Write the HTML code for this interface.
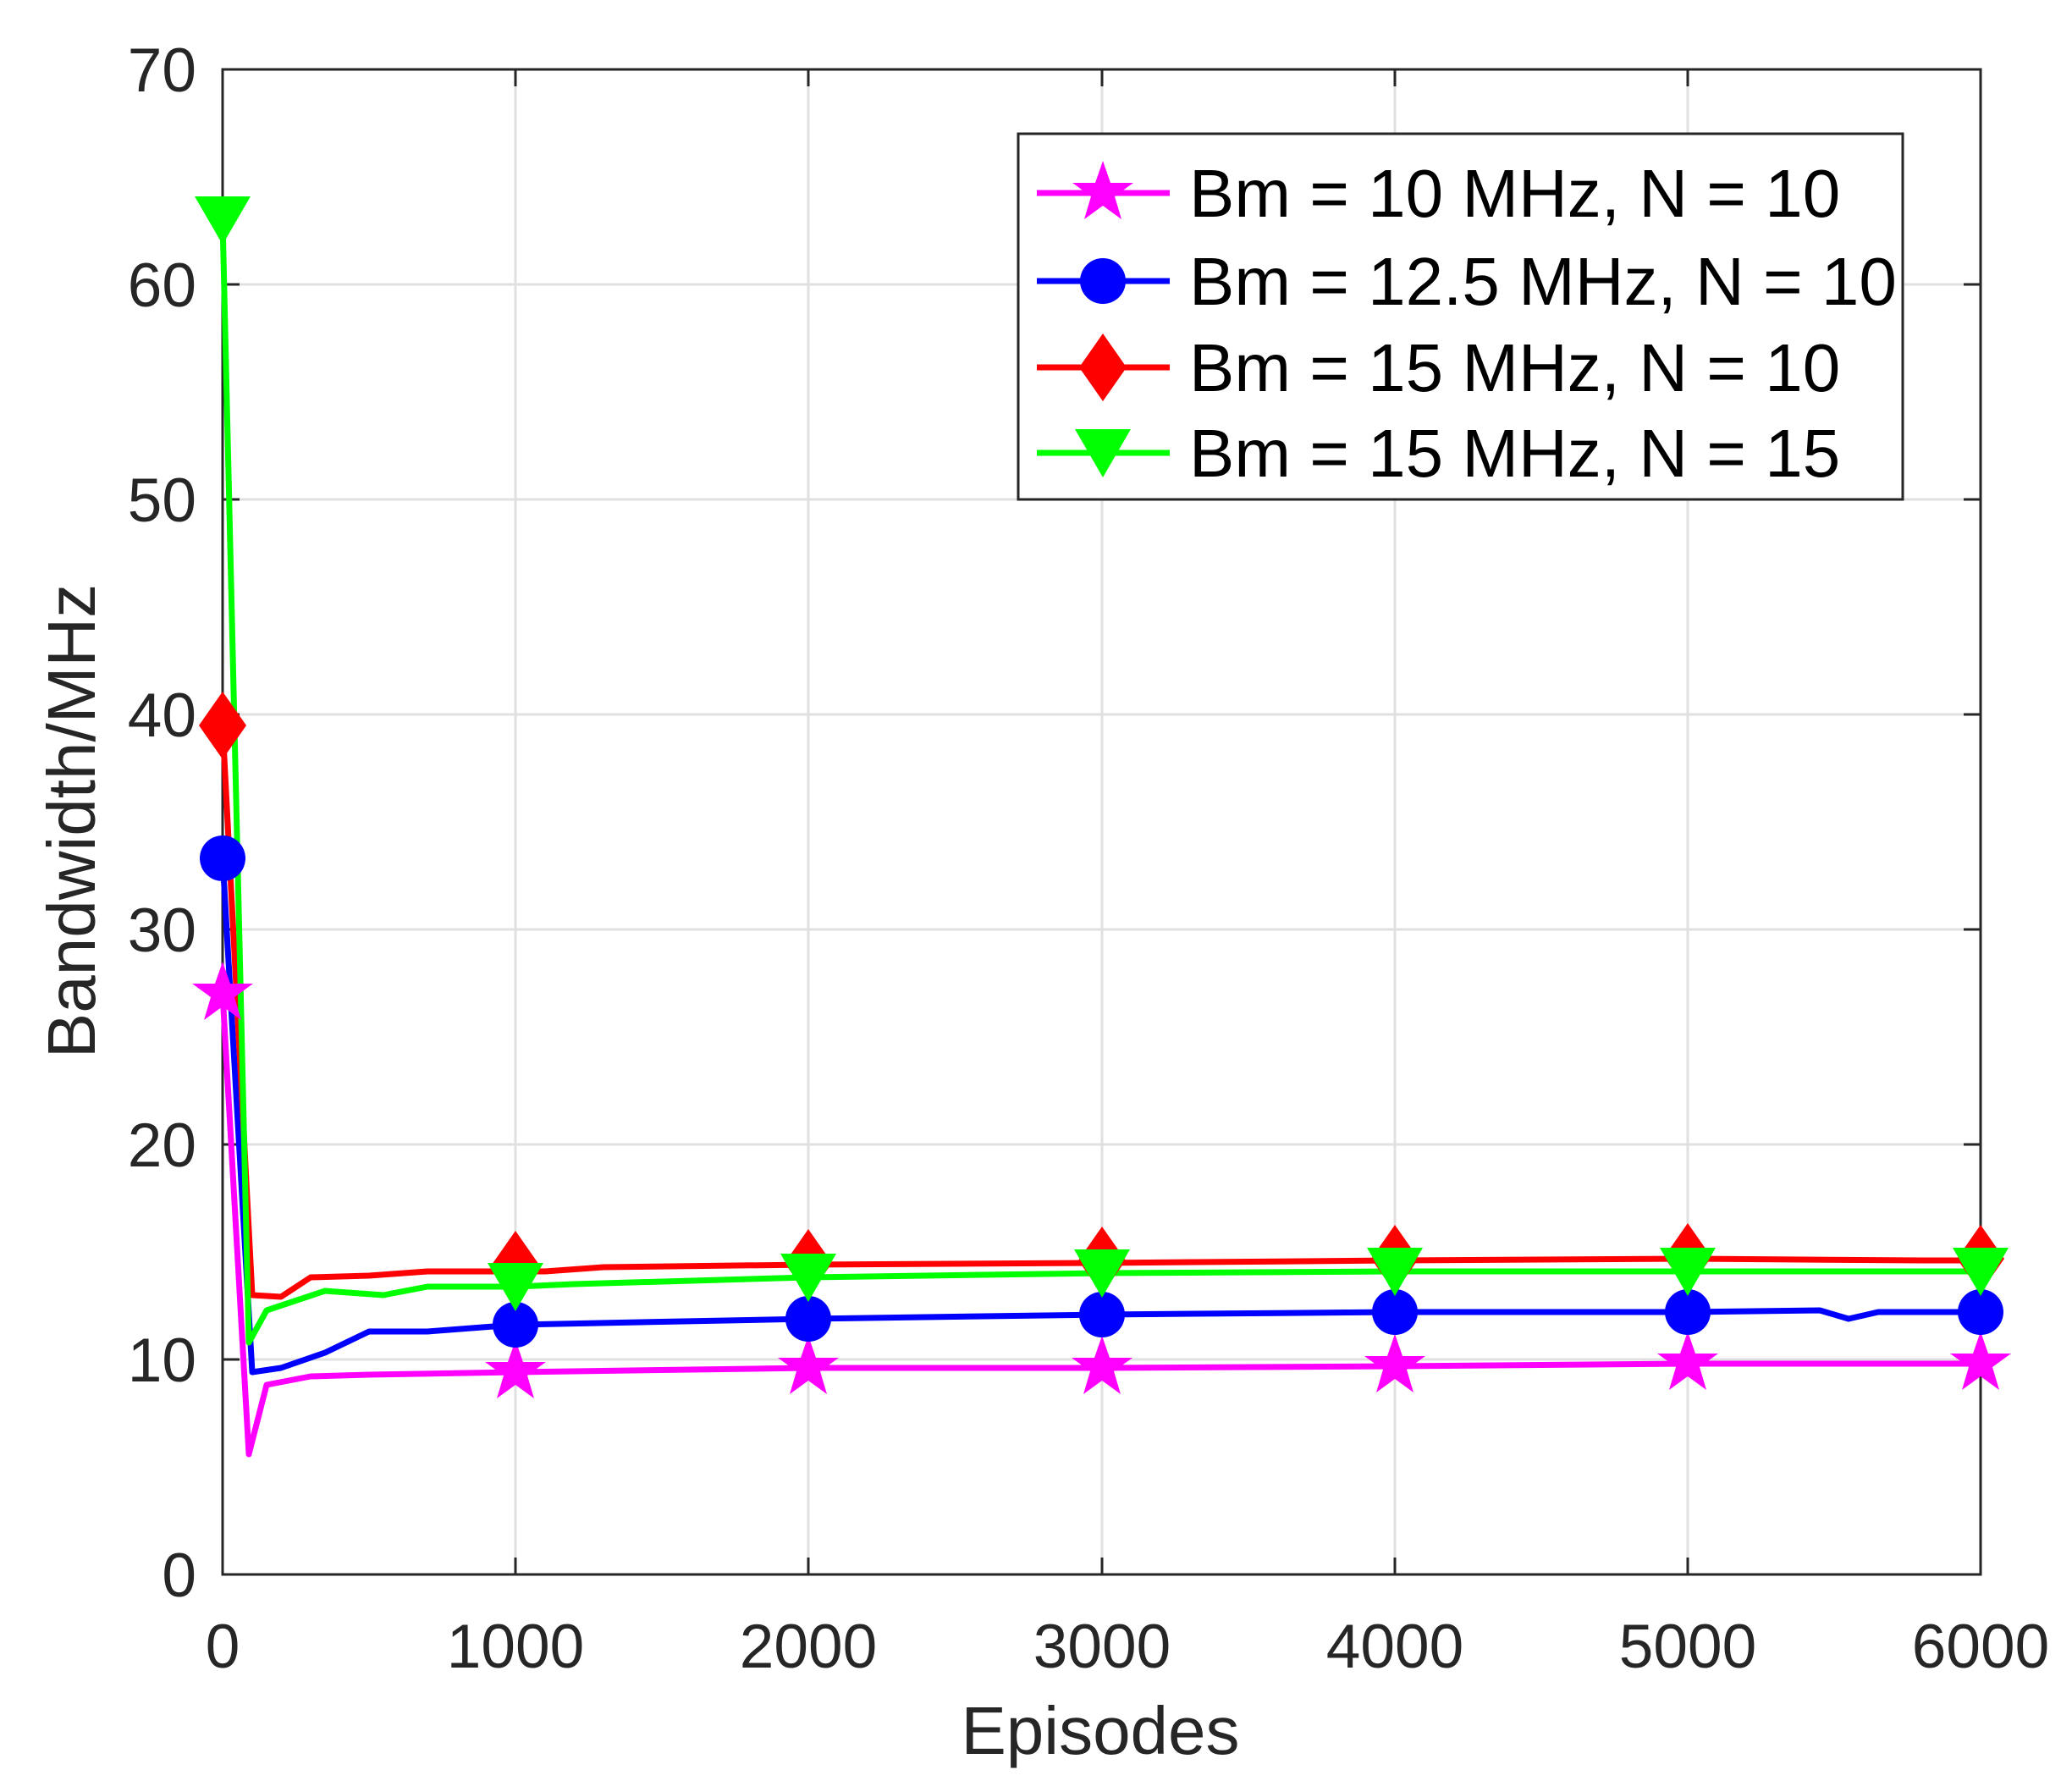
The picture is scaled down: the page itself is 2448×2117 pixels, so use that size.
<!DOCTYPE html>
<html><head><meta charset="utf-8"><style>html,body{margin:0;padding:0;background:#fff}</style></head>
<body>
<svg width="2448" height="2112" viewBox="0 0 2448 2112" xmlns="http://www.w3.org/2000/svg" font-family="Liberation Sans, sans-serif">
<defs>
<polygon id="star" points="0,-38 9,-12 36,-12 14,4 22,31 0,15 -22,31 -14,4 -36,-12 -9,-12" fill="#ff00ff"/>
<circle id="circ" cx="0" cy="0" r="27" fill="#0000ff"/>
<polygon id="diam" points="0,-40 28,0 0,40 -28,0" fill="#ff0000"/>
<polygon id="tri" points="-33,-28 33,-28 0,29" fill="#00ff00"/>
</defs>
<rect width="2448" height="2112" fill="#fff"/>
<g stroke="#e0e0e0" stroke-width="3">
<line x1="609" y1="82" x2="609" y2="1860"/><line x1="955" y1="82" x2="955" y2="1860"/>
<line x1="1302" y1="82" x2="1302" y2="1860"/><line x1="1648" y1="82" x2="1648" y2="1860"/>
<line x1="1994" y1="82" x2="1994" y2="1860"/>
<line x1="263" y1="336" x2="2340" y2="336"/><line x1="263" y1="590" x2="2340" y2="590"/>
<line x1="263" y1="844" x2="2340" y2="844"/><line x1="263" y1="1098" x2="2340" y2="1098"/>
<line x1="263" y1="1352" x2="2340" y2="1352"/><line x1="263" y1="1606" x2="2340" y2="1606"/>
</g>
<g stroke="#262626" stroke-width="3" fill="none">
<rect x="263" y="82" width="2077" height="1778"/>
<path d="M609,1860v-20M955,1860v-20M1302,1860v-20M1648,1860v-20M1994,1860v-20M609,82v20M955,82v20M1302,82v20M1648,82v20M1994,82v20"/>
<path d="M263,336h20M263,590h20M263,844h20M263,1098h20M263,1352h20M263,1606h20M2340,336h-20M2340,590h-20M2340,844h-20M2340,1098h-20M2340,1352h-20M2340,1606h-20"/>
</g>
<g fill="#262626" font-size="73" text-anchor="end">
<text x="232" y="108">70</text><text x="232" y="362">60</text><text x="232" y="616">50</text>
<text x="232" y="870">40</text><text x="232" y="1124">30</text><text x="232" y="1378">20</text>
<text x="232" y="1632">10</text><text x="232" y="1886">0</text>
</g>
<g fill="#262626" font-size="73" text-anchor="middle">
<text x="263" y="1970">0</text><text x="609" y="1970">1000</text><text x="955" y="1970">2000</text>
<text x="1302" y="1970">3000</text><text x="1648" y="1970">4000</text><text x="1994" y="1970">5000</text>
<text x="2340" y="1970">6000</text>
<text x="1300" y="2072" font-size="80">Episodes</text>
<text transform="translate(112,970) rotate(-90)" font-size="80">Bandwidth/MHz</text>
</g>
<g fill="none" stroke-width="7" stroke-linejoin="round">
<polyline stroke="#ff00ff" points="263,1174 294,1718 315,1636 367,1626 436,1624 609,1621 955,1616 1302,1616 1648,1614 1994,1611 2340,1611"/>
<polyline stroke="#0000ff" points="263,1014 298,1621 332,1616 384,1598 436,1573 505,1573 609,1565 955,1558 1302,1553 1648,1550 1994,1550 2150,1548 2184,1558 2219,1550 2340,1550"/>
<polyline stroke="#ff0000" points="263,857 298,1530 332,1532 367,1509 436,1507 505,1502 644,1502 713,1497 955,1494 1302,1492 1648,1489 1994,1487 2271,1489 2340,1489"/>
<polyline stroke="#00ff00" points="263,260 294,1586 315,1548 384,1525 453,1530 505,1520 609,1520 678,1517 955,1509 1302,1504 1648,1502 1994,1502 2340,1502"/>
</g>
<g>
<use href="#star" x="263" y="1174"/><use href="#star" x="609" y="1621"/><use href="#star" x="955" y="1616"/><use href="#star" x="1302" y="1616"/><use href="#star" x="1648" y="1614"/><use href="#star" x="1994" y="1611"/><use href="#star" x="2340" y="1611"/>
<use href="#circ" x="263" y="1014"/><use href="#circ" x="609" y="1565"/><use href="#circ" x="955" y="1558"/><use href="#circ" x="1302" y="1553"/><use href="#circ" x="1648" y="1550"/><use href="#circ" x="1994" y="1550"/><use href="#circ" x="2340" y="1550"/>
<use href="#diam" x="263" y="857"/><use href="#diam" x="609" y="1494"/><use href="#diam" x="955" y="1492"/><use href="#diam" x="1302" y="1489"/><use href="#diam" x="1648" y="1487"/><use href="#diam" x="1994" y="1485"/><use href="#diam" x="2340" y="1487"/>
<use href="#tri" x="263" y="260"/><use href="#tri" x="609" y="1520"/><use href="#tri" x="955" y="1509"/><use href="#tri" x="1302" y="1504"/><use href="#tri" x="1648" y="1502"/><use href="#tri" x="1994" y="1502"/><use href="#tri" x="2340" y="1502"/>
</g>
<rect x="1203" y="158" width="1045" height="432" fill="#fff" stroke="#262626" stroke-width="3"/>
<g stroke-width="7">
<line x1="1225" y1="228" x2="1382" y2="228" stroke="#ff00ff"/><use href="#star" x="1303" y="228"/>
<line x1="1225" y1="332" x2="1382" y2="332" stroke="#0000ff"/><use href="#circ" x="1303" y="332"/>
<line x1="1225" y1="434" x2="1382" y2="434" stroke="#ff0000"/><use href="#diam" x="1303" y="434"/>
<line x1="1225" y1="535" x2="1382" y2="535" stroke="#00ff00"/><use href="#tri" x="1303" y="535"/>
</g>
<g fill="#000" font-size="80">
<text x="1405" y="256">Bm = 10 MHz, N = 10</text>
<text x="1405" y="360">Bm = 12.5 MHz, N = 10</text>
<text x="1405" y="462">Bm = 15 MHz, N = 10</text>
<text x="1405" y="563">Bm = 15 MHz, N = 15</text>
</g>
</svg>
</body></html>
